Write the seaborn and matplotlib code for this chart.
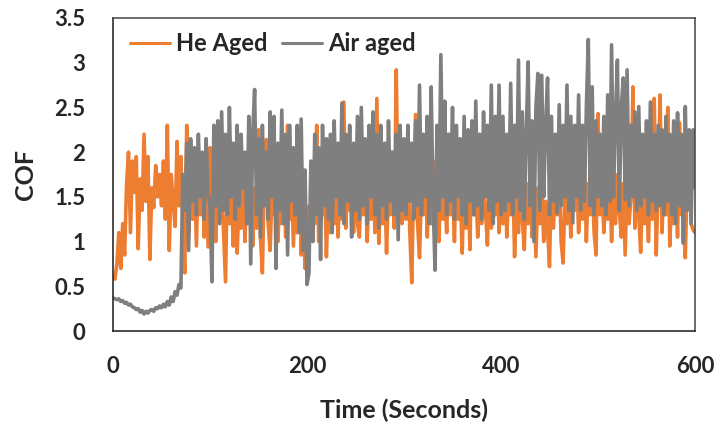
import numpy as np
import pandas as pd
import matplotlib
matplotlib.use("Agg")
import matplotlib.pyplot as plt
import seaborn as sns

# Time axis (seconds), sampled every 2 s
time_s = list(range(0, 601, 2))

# COF, He aged (orange)
he_aged = [
    0.62, 0.58, 0.75, 1.10, 0.70, 1.20, 0.85, 1.65, 2.00, 1.10,
    1.90, 1.55, 1.95, 0.92, 1.70, 1.35, 2.20, 1.45, 1.95, 0.80,
    1.60, 1.38, 1.85, 1.50, 1.75, 1.40, 1.90, 1.25, 2.30, 0.90,
    1.75, 1.45, 1.17, 2.12, 1.40, 1.95, 1.20, 0.65, 2.30, 1.10,
    2.00, 1.25, 1.80, 0.95, 1.90, 1.30, 1.75, 1.05, 1.95, 0.94,
    2.05, 1.20, 1.70, 1.00, 1.85, 1.25, 1.65, 1.10, 0.55, 1.80,
    1.20, 1.60, 0.95, 1.75, 0.87, 1.50, 1.15, 1.80, 1.00, 1.65,
    1.25, 1.90, 0.95, 1.60, 1.15, 2.25, 1.05, 0.65, 1.70, 2.14,
    1.20, 0.90, 1.60, 1.30, 1.75, 1.00, 1.55, 1.20, 1.80, 1.05,
    2.30, 1.25, 1.70, 0.95, 1.60, 1.10, 2.20, 0.85, 1.50, 0.70,
    1.30, 1.40, 1.10, 1.75, 1.20, 2.30, 1.00, 1.65, 1.30, 1.80,
    0.83, 1.55, 1.10, 1.90, 1.20, 1.70, 1.05, 1.60, 1.25, 2.56,
    1.15, 1.80, 1.35, 1.60, 1.10, 1.95, 1.20, 1.05, 1.70, 1.30,
    1.85, 1.00, 1.60, 1.25, 1.90, 1.10, 2.60, 0.98, 1.55, 1.20,
    1.75, 0.87, 1.60, 1.30, 2.00, 1.15, 2.92, 1.40, 1.70, 1.20,
    1.80, 1.25, 1.90, 1.10, 0.54, 1.70, 2.42, 1.20, 0.82, 1.60,
    1.30, 1.85, 1.05, 1.70, 1.20, 1.90, 1.35, 1.60, 1.00, 1.75,
    1.25, 1.55, 1.10, 1.80, 1.30, 1.65, 1.00, 1.90, 1.25, 1.55,
    0.87, 1.70, 1.15, 1.80, 0.91, 2.20, 1.30, 1.60, 1.05, 1.75,
    1.20, 1.60, 1.35, 0.96, 1.80, 1.15, 1.65, 1.30, 1.85, 1.10,
    1.60, 1.20, 1.75, 1.05, 1.60, 1.30, 1.85, 0.83, 1.50, 1.10,
    1.70, 1.25, 0.91, 1.65, 1.20, 1.80, 1.05, 1.55, 0.83, 1.60,
    1.20, 1.70, 1.00, 1.45, 1.15, 0.72, 1.75, 1.15, 1.60, 1.30,
    1.85, 1.00, 0.76, 1.55, 1.20, 1.70, 1.05, 1.60, 1.35, 1.80,
    1.10, 1.50, 1.25, 1.90, 1.00, 1.65, 1.30, 1.75, 1.10, 0.85,
    2.43, 1.30, 1.70, 1.10, 1.55, 1.25, 1.80, 1.00, 1.60, 1.20,
    1.75, 1.35, 1.05, 1.65, 0.85, 1.70, 1.20, 1.50, 2.73, 1.15,
    1.60, 1.30, 0.88, 1.70, 1.20, 1.55, 1.00, 1.75, 1.25, 2.60,
    0.85, 1.60, 2.64, 1.10, 1.70, 1.30, 2.50, 0.95, 1.60, 1.20,
    1.75, 1.05, 2.33, 1.30, 1.55, 0.82, 1.70, 2.15, 1.20, 1.13,
    1.10,
]

# COF, Air aged (gray)
air_aged = [
    0.37, 0.36, 0.35, 0.36, 0.33, 0.34, 0.31, 0.32, 0.29, 0.30,
    0.27, 0.26, 0.24, 0.25, 0.21, 0.23, 0.19, 0.22, 0.20, 0.23,
    0.24, 0.22, 0.26, 0.25, 0.28, 0.26, 0.30, 0.27, 0.33, 0.29,
    0.38, 0.33, 0.44, 0.40, 0.52, 0.48, 1.75, 1.35, 2.10, 0.90,
    2.15, 1.45, 2.05, 1.30, 2.20, 1.50, 2.00, 1.25, 2.15, 1.55,
    1.40, 0.55, 2.30, 1.40, 2.35, 1.20, 2.45, 1.35, 2.20, 1.30,
    2.50, 1.50, 2.10, 1.25, 2.30, 1.40, 2.20, 1.60, 2.00, 1.20,
    2.40, 0.75, 2.20, 2.70, 1.30, 2.15, 1.05, 2.30, 1.40, 2.00,
    1.25, 2.45, 1.50, 2.40, 0.70, 2.10, 1.35, 2.47, 1.20, 2.20,
    0.85, 2.30, 1.45, 2.05, 1.30, 2.30, 1.10, 2.37, 0.90, 1.80,
    0.52, 0.65, 1.90, 1.00, 2.20, 1.30, 2.05, 0.80, 2.30, 1.40,
    2.15, 1.25, 2.20, 1.10, 2.35, 1.50, 2.10, 1.30, 2.55, 1.20,
    2.20, 1.45, 2.30, 1.05, 2.10, 1.35, 2.40, 1.25, 2.50, 1.40,
    2.15, 1.20, 2.30, 1.50, 2.45, 1.30, 2.20, 1.15, 2.30, 1.40,
    2.10, 1.25, 2.35, 1.45, 2.00, 1.30, 2.20, 1.02, 2.30, 1.35,
    2.15, 1.30, 2.30, 1.45, 2.10, 1.25, 2.35, 1.40, 2.75, 1.30,
    2.20, 1.50, 2.40, 1.20, 2.73, 1.45, 0.68, 2.30, 1.35, 3.09,
    1.50, 2.57, 1.30, 2.20, 1.45, 2.50, 1.25, 2.30, 1.50, 2.15,
    1.30, 2.40, 1.20, 2.25, 1.45, 2.35, 1.30, 2.57, 1.40, 2.20,
    1.25, 2.45, 1.50, 2.30, 1.35, 2.75, 1.20, 2.40, 1.45, 2.75,
    1.30, 2.40, 1.35, 2.20, 1.45, 2.77, 1.30, 2.30, 1.50, 3.03,
    1.35, 2.45, 1.25, 2.20, 3.01, 1.40, 2.35, 1.00, 2.50, 2.88,
    1.35, 2.86, 1.50, 2.30, 2.83, 1.30, 2.40, 1.45, 2.20, 1.32,
    2.53, 1.40, 2.30, 1.50, 2.75, 1.35, 2.40, 1.21, 2.30, 1.50,
    2.64, 1.35, 2.30, 1.45, 2.50, 3.26, 1.40, 2.73, 1.30, 2.35,
    1.50, 2.20, 1.40, 2.40, 1.30, 2.64, 1.45, 3.20, 1.50, 2.40,
    3.03, 1.35, 2.50, 2.83, 1.47, 2.92, 1.40, 2.30, 1.50, 2.45,
    1.35, 2.51, 1.40, 2.20, 1.50, 2.35, 1.30, 2.56, 1.45, 2.20,
    1.35, 2.30, 1.40, 2.25, 1.30, 2.40, 1.45, 2.20, 1.30, 2.35,
    1.20, 2.44, 1.40, 2.20, 0.98, 2.51, 1.35, 2.25, 1.20, 2.25,
    1.60,
]

series_names = ["He Aged", "Air aged"]
series_colors = ["#ED7D31", "#7F7F7F"]
x_ticks = [0, 200, 400, 600]
y_ticks = [0, 0.5, 1, 1.5, 2, 2.5, 3, 3.5]
y_tick_labels = ["0", "0.5", "1", "1.5", "2", "2.5", "3", "3.5"]

df = pd.DataFrame({
    "Time": time_s * 2,
    "COF": he_aged + air_aged,
    "Series": [series_names[0]] * len(time_s) + [series_names[1]] * len(time_s),
})

sns.set_style("white")
plt.rcParams["font.family"] = ["Lato", "DejaVu Sans"]
plt.rcParams["font.weight"] = "bold"

fig = plt.figure(figsize=(7.2, 4.29), dpi=100)
ax = fig.add_axes([113 / 720, 1 - 331 / 429, 582 / 720, 313 / 429])

sns.lineplot(data=df, x="Time", y="COF", hue="Series", hue_order=series_names,
             palette=series_colors, estimator=None, sort=False, linewidth=2.6,
             ax=ax)

ax.set_xlim(0, 600)
ax.set_ylim(0, 3.5)
ax.set_xticks(x_ticks)
ax.set_xticklabels([str(v) for v in x_ticks], fontsize=16, fontweight="bold")
ax.set_yticks(y_ticks)
ax.set_yticklabels(y_tick_labels, fontsize=16, fontweight="bold")

ax.tick_params(axis="both", direction="out", length=6.5, width=1.0,
               color="#555555")
ax.tick_params(axis="y", pad=13.5)
ax.tick_params(axis="x", pad=11.5)

for side in ["left", "bottom"]:
    ax.spines[side].set_color("#1a1a1a")
    ax.spines[side].set_linewidth(1.1)
for side in ["top", "right"]:
    ax.spines[side].set_color("#444444")
    ax.spines[side].set_linewidth(1.1)

ax.set_xlabel("Time (Seconds)", fontsize=18, fontweight="bold")
ax.set_ylabel("COF", fontsize=18, fontweight="bold")
ax.xaxis.set_label_coords(0.5, -0.215)
ax.yaxis.set_label_coords(-0.13, 0.5)

leg = ax.legend(loc="upper left", bbox_to_anchor=(17 / 582, 0.955), ncol=2,
                frameon=False, fontsize=17, handlelength=1.7,
                handletextpad=0.25, columnspacing=0.6, borderpad=0,
                borderaxespad=0)
for t in leg.get_texts():
    t.set_fontweight("bold")
for h in leg.get_lines():
    h.set_linewidth(2.2)

fig.savefig("out.png", dpi=100)
